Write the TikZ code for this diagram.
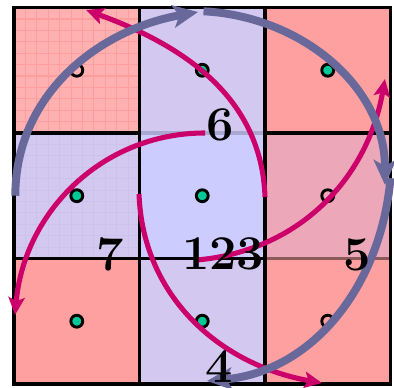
\documentclass[tikz,border=0pt]{standalone}
\usepackage{tikz}
\usetikzlibrary{arrows.meta}

\definecolor{cellpink}{RGB}{255,160,160}
\definecolor{cellhatch}{RGB}{255,176,176}
\definecolor{hatchline}{RGB}{255,158,158}
\definecolor{celllilac}{RGB}{210,200,240}
\definecolor{lilacline}{RGB}{204,194,238}
\definecolor{cellblue}{RGB}{204,204,255}
\definecolor{cellrose}{RGB}{236,168,184}
\definecolor{edgeblue}{RGB}{168,168,208}
\definecolor{edgebrown}{RGB}{140,90,90}
\definecolor{turnblue}{RGB}{104,104,154}
\definecolor{turnred}{RGB}{204,0,106}
\definecolor{dotgreen}{RGB}{0,200,150}

\begin{document}
\begin{tikzpicture}[scale=2,
        gridline/.style={line width=1.5pt},
        dotmark/.style={circle, draw=black, line width=1.3pt, minimum size=0.19cm, inner sep=0pt},
        turnbig/.style={-{Stealth[length=4mm, width=3.6mm, inset=1mm]}, line width=3.6pt, draw=turnblue},
        turnsmall/.style={-{Stealth[length=2.8mm, width=2.6mm, inset=0.6mm]}, line width=2.3pt, draw=turnred},
        digit/.style={font=\fontsize{22}{26}\selectfont\bfseries, inner sep=0pt}
    ]
    \useasboundingbox (-0.112,-0.032) rectangle (3.028,3.06);

    \fill[cellhatch] (0,2) rectangle (1,3);
    \draw[hatchline, line width=0.5pt, step=0.0909] (0,2) grid (1,3);
    \fill[celllilac] (1,2) rectangle (2,3);
    \fill[cellpink] (2,2) rectangle (3,3);
    \fill[celllilac] (0,1) rectangle (1,2);
    \draw[lilacline, line width=0.4pt, step=0.0909] (0,1) grid (1,2);
    \fill[cellblue] (1,1) rectangle (2,2);
    \fill[cellrose] (2,1) rectangle (3,2);
    \fill[cellpink] (0,0) rectangle (1,1);
    \fill[celllilac] (1,0) rectangle (2,1);
    \fill[cellpink] (2,0) rectangle (3,1);

    \draw[gridline] (0,1) -- (2,1);
    \draw[gridline] (0,2) -- (1,2);
    \draw[gridline] (2,2) -- (3,2);
    \draw[gridline, edgeblue] (1,2) -- (2,2);
    \draw[gridline, edgebrown] (2,1) -- (3,1);
    \foreach \k in {1,2}
        \draw[gridline] (\k,0) -- (\k,3);
    \draw[gridline] (0,0) rectangle (3,3);

    \node[dotmark] (d11) at (0.5,2.5) {};
    \node[dotmark, fill=dotgreen] (d12) at (1.5,2.5) {};
    \node[dotmark, fill=dotgreen] (d13) at (2.5,2.5) {};
    \node[dotmark, fill=dotgreen] (d21) at (0.5,1.5) {};
    \node[dotmark, fill=dotgreen] (d22) at (1.5,1.5) {};
    \node[dotmark] (d23) at (2.5,1.5) {};
    \node[dotmark, fill=dotgreen] (d31) at (0.5,0.5) {};
    \node[dotmark, fill=dotgreen] (d32) at (1.5,0.5) {};
    \node[dotmark] (d33) at (2.5,0.5) {};

    \coordinate (m1s) at (2.0,1.49);
    \coordinate (m1e) at (0.574,2.98);
    \coordinate (m2s) at (1.522,2.0);
    \coordinate (m2e) at (0.008,0.55);
    \coordinate (m3s) at (0.996,1.514);
    \coordinate (m3e) at (2.454,0.008);
    \coordinate (m4s) at (1.458,0.988);
    \coordinate (m4e) at (2.956,2.43);
    \coordinate (b1s) at (0.01,1.5);
    \coordinate (b1e) at (1.466,2.964);
    \coordinate (b2s) at (1.51,2.97);
    \coordinate (b2e) at (2.956,1.586);
    \coordinate (b3s) at (3.0,1.64);
    \coordinate (b3e) at (1.538,0.024);

    \draw[turnsmall] (m1s) to[out=92, in=-20] (m1e);
    \draw[turnsmall] (m2s) to[out=180, in=85] (m2e);
    \draw[turnsmall] (m3s) to[out=-88, in=170] (m3e);
    \draw[turnsmall] (m4s) to[out=5, in=-100] (m4e);
    \draw[turnbig] (b1s) to[out=90, in=190] (b1e);
    \draw[turnbig] (b2s) to[out=-3, in=90] (b2e);
    \draw[turnbig] (b3s) to[out=-95, in=5] (b3e);

    \node[digit] (six) at (1.641,2.064) {6};
    \node[digit] (seven) at (0.765,1.036) {7};
    \node[digit] (mid) at (1.665,1.036) {123};
    \node[digit] (five) at (2.733,1.028) {5};
    \node[digit] (four) at (1.633,0.14) {4};
\end{tikzpicture}
\end{document}
